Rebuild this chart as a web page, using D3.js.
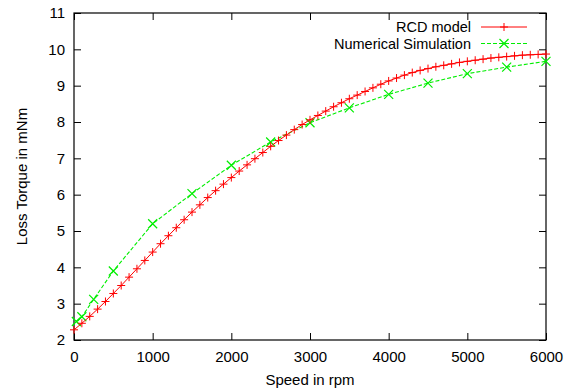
<!DOCTYPE html>
<html>
<head>
<meta charset="utf-8">
<script src="https://cdn.jsdelivr.net/npm/d3@7"></script>
<style>
  body { margin: 0; background: white; }
  text { font-family: "Liberation Sans", Arial, sans-serif; }
</style>
</head>
<body>
<div id="chart"></div>
<script>
// RCD model, every 100 rpm
const rcdSpeed = d3.range(0, 6001, 100)
const rcdTorque = [
  2.28, 2.46, 2.65, 2.85, 3.06, 3.28, 3.50, 3.73, 3.96, 4.19,
  4.42, 4.65, 4.87, 5.09, 5.31, 5.52, 5.72, 5.92, 6.11, 6.29,
  6.47, 6.65, 6.82, 6.99, 7.16, 7.33, 7.49, 7.64, 7.79, 7.93,
  8.06, 8.18, 8.30, 8.42, 8.53, 8.64, 8.74, 8.84, 8.94, 9.04,
  9.13, 9.21, 9.29, 9.36, 9.42, 9.47, 9.52, 9.56, 9.60, 9.64,
  9.67, 9.70, 9.73, 9.76, 9.78, 9.80, 9.82, 9.84, 9.85, 9.86,
  9.87
]

// Numerical simulation
const simSpeed = [30, 100, 250, 500, 1000, 1500, 2000, 2500, 3000, 3500, 4000, 4500, 5000, 5500, 6000]
const simTorque = [2.51, 2.64, 3.12, 3.90, 5.20, 6.03, 6.81, 7.45, 7.98, 8.39, 8.76, 9.07, 9.33, 9.51, 9.67]

const xTicks = [0, 1000, 2000, 3000, 4000, 5000, 6000]
const yTicks = [2, 3, 4, 5, 6, 7, 8, 9, 10, 11]

const seriesNames = ['RCD model', 'Numerical Simulation']

const width = 565
const height = 391
const margin = {left: 74, right: 19, top: 13, bottom: 51}
const w = width - margin.left - margin.right
const h = height - margin.top - margin.bottom
const fontSize = '15px'

const svg = d3.select('#chart').append('svg')
  .attr('width', width)
  .attr('height', height)

const xScale = d3.scaleLinear().domain([0, 6000]).range([0, w])
const yScale = d3.scaleLinear().domain([2, 11]).range([h, 0])

const g = svg.append('g')
  .attr('transform', `translate(${margin.left},${margin.top})`)

// Axes, ticks pointing inward, mirrored on top and right
const tickLen = 7
g.append('g')
  .attr('transform', `translate(0,${h})`)
  .call(d3.axisBottom(xScale).tickValues(xTicks).tickFormat(d3.format('d'))
    .tickSize(-tickLen).tickSizeOuter(0).tickPadding(11))
g.append('g')
  .call(d3.axisTop(xScale).tickValues(xTicks).tickSize(-tickLen).tickSizeOuter(0).tickFormat(''))
g.append('g')
  .call(d3.axisLeft(yScale).tickValues(yTicks).tickFormat(d3.format('d'))
    .tickSize(-tickLen).tickSizeOuter(0).tickPadding(9))
g.append('g')
  .attr('transform', `translate(${w},0)`)
  .call(d3.axisRight(yScale).tickValues(yTicks).tickSize(-tickLen).tickSizeOuter(0).tickFormat(''))

g.selectAll('.domain').remove()
g.selectAll('.tick line').attr('stroke', 'black')
g.selectAll('.tick text')
  .attr('fill', 'black')
  .style('font-size', fontSize)
  .style('font-family', '"Liberation Sans", Arial, sans-serif')

// Border
g.append('rect')
  .attr('width', w)
  .attr('height', h)
  .attr('fill', 'none')
  .attr('stroke', 'black')
  .attr('stroke-width', 1.2)

// Axis titles
svg.append('text')
  .attr('x', margin.left + w / 2)
  .attr('y', 385)
  .attr('text-anchor', 'middle')
  .style('font-size', fontSize)
  .text('Speed in rpm')
svg.append('text')
  .attr('transform', `translate(27,${margin.top + h / 2}) rotate(-90)`)
  .attr('text-anchor', 'middle')
  .style('font-size', fontSize)
  .text('Loss Torque in mNm')

const line = d3.line()
  .x(d => xScale(d.s))
  .y(d => yScale(d.t))

const rcd = rcdSpeed.map((s, i) => ({s: s, t: rcdTorque[i]}))
const sim = simSpeed.map((s, i) => ({s: s, t: simTorque[i]}))

const red = '#ff0000'
const green = '#00ee00'

function plus(sel, x, y, r, color) {
  sel.append('path')
    .attr('d', `M${x - r},${y}H${x + r}M${x},${y - r}V${y + r}`)
    .attr('stroke', color)
    .attr('stroke-width', 1)
    .attr('fill', 'none')
}
function cross(sel, x, y, r, color) {
  sel.append('path')
    .attr('d', `M${x - r},${y - r}L${x + r},${y + r}M${x - r},${y + r}L${x + r},${y - r}`)
    .attr('stroke', color)
    .attr('stroke-width', 1.2)
    .attr('fill', 'none')
}

// Simulation line
g.append('path')
  .datum(sim)
  .attr('d', line)
  .attr('fill', 'none')
  .attr('stroke', green)
  .attr('stroke-width', 1.1)
  .attr('stroke-dasharray', '4,2')
sim.forEach(d => cross(g, xScale(d.s), yScale(d.t), 4.5, green))

// RCD model line
g.append('path')
  .datum(rcd)
  .attr('d', line)
  .attr('fill', 'none')
  .attr('stroke', red)
  .attr('stroke-width', 1)
rcd.forEach(d => plus(g, xScale(d.s), yScale(d.t), 4, red))

// Legend
const legend = svg.append('g')
const legY = [27, 43.5]
const legColors = [red, green]
seriesNames.forEach((name, i) => {
  legend.append('text')
    .attr('x', 471)
    .attr('y', legY[i])
    .attr('dy', '0.35em')
    .attr('text-anchor', 'end')
    .style('font-size', '14.5px')
    .text(name)
  legend.append('line')
    .attr('x1', 481).attr('x2', 527)
    .attr('y1', legY[i]).attr('y2', legY[i])
    .attr('stroke', legColors[i])
    .attr('stroke-width', 1)
    .attr('stroke-dasharray', i === 1 ? '4,2' : null)
  if (i === 0) plus(legend, 504, legY[i], 4, red)
  else cross(legend, 504, legY[i], 4.5, green)
})
</script>
</body>
</html>
